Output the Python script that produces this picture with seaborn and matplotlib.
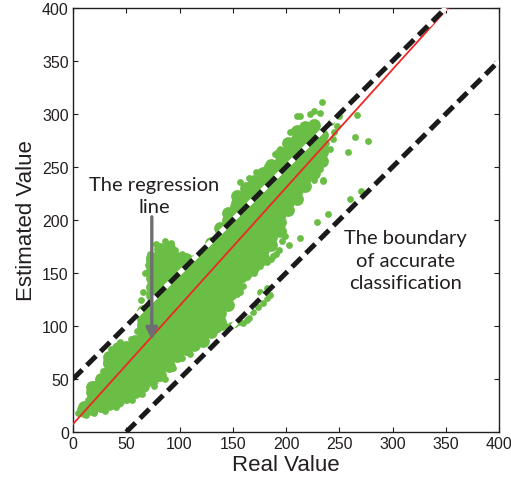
# Scatter of estimated vs real value with regression line and +/-50 boundaries
import numpy as np
import pandas as pd
import matplotlib
matplotlib.use("Agg")
import matplotlib.pyplot as plt
import seaborn as sns

# dense core of the cloud, read column by column (x, then the y values in that column)
core_cols_x = [10, 18, 26, 34, 42, 50, 58, 66, 74, 82, 90, 98, 106, 114, 122, 130,
               138, 146, 154, 162, 170, 178, 186, 194, 202, 210, 218, 226, 234]
core_cols_y = [
    [20, 24],
    [22, 30, 38, 42],
    [25, 33, 41, 50],
    [26, 34, 42, 50, 58, 66, 71],
    [29, 37, 45, 53, 61, 69, 77, 79],
    [33, 41, 49, 57, 65, 73, 80],
    [38, 46, 54, 62, 70, 78, 86],
    [43, 51, 59, 67, 75, 83, 91, 99, 107, 114],
    [49, 57, 65, 73, 81, 89, 97, 105, 113, 121, 129, 137, 145, 153, 161, 164],
    [54, 62, 70, 78, 86, 94, 102, 110, 118, 126, 134, 142, 150, 158, 166, 173],
    [62, 70, 78, 86, 94, 102, 110, 118, 126, 134, 142, 150, 158, 166, 174],
    [72, 80, 88, 96, 104, 112, 120, 128, 136, 144, 152, 160, 164],
    [78, 86, 94, 102, 110, 118, 126, 134, 142, 150, 158, 163],
    [82, 90, 98, 106, 114, 122, 130, 138, 146, 154, 161],
    [86, 94, 102, 110, 118, 126, 134, 142, 150, 158, 166],
    [94, 102, 110, 118, 126, 134, 142, 150, 158, 166, 174, 178],
    [104, 112, 120, 128, 136, 144, 152, 160, 168, 176, 184, 192],
    [120, 128, 136, 144, 152, 160, 168, 176, 184, 192, 200, 207],
    [136, 144, 152, 160, 168, 176, 184, 192, 200, 208, 216, 223],
    [150, 158, 166, 174, 182, 190, 198, 206, 214, 222, 230],
    [157, 165, 173, 181, 189, 197, 205, 213, 221, 229, 237],
    [164, 172, 180, 188, 196, 204, 212, 220, 228, 236, 244],
    [176, 184, 192, 200, 208, 216, 224, 232, 240, 248, 252],
    [190, 198, 206, 214, 222, 230, 238, 246, 254, 262],
    [209, 217, 225, 233, 241, 249, 257, 265, 273],
    [220, 228, 236, 244, 252, 260, 268, 276, 284],
    [232, 240, 248, 256, 264, 272, 280, 288],
    [244, 252, 260, 268, 276, 284, 290],
    [256, 264, 272, 280],
]

# single scattered points along the edges, the lower arms and the outliers
edge_x = [5, 7, 12, 14, 20, 28, 31, 36, 44, 54, 60, 63, 62, 64, 66, 68, 70, 72, 78, 86,
          92, 96, 102, 108, 20, 30, 40, 55, 65, 76, 86, 94, 102, 110,
          100, 106, 113, 120, 128, 136, 144, 152, 160, 165, 169, 174, 178, 182, 185, 176, 182,
          122, 127, 132, 138, 144, 150, 157, 160, 166, 171, 176, 182, 188, 185, 191, 196,
          105, 117, 125, 133, 140, 148, 156, 163, 130, 136, 141, 148, 154, 160, 163, 170,
          178, 186, 193, 199, 195,
          203, 213, 229, 239, 260, 270, 258, 265, 277, 267, 235,
          234, 226, 232, 213, 223, 207, 216, 204, 198, 194, 191, 235, 241, 238, 248, 235, 232,
          226, 244, 250, 245, 242, 228,
          150, 157, 165, 172, 182, 194, 204, 210, 190]
edge_y = [18, 22, 16, 30, 45, 58, 64, 78, 85, 88, 95, 102, 110, 125, 132, 150, 158, 168, 177, 180,
          178, 172, 168, 164, 18, 20, 24, 30, 36, 43, 50, 60, 70, 74,
          75, 78, 84, 88, 94, 97, 100, 102, 103, 108, 113, 118, 122, 126, 129, 132, 136,
          106, 110, 114, 120, 125, 128, 132, 144, 150, 153, 157, 160, 166, 179, 168, 180,
          80, 86, 92, 96, 99, 101, 104, 106, 108, 116, 122, 127, 130, 138, 146, 150,
          160, 163, 172, 185, 190,
          176, 183, 198, 206, 220, 227, 264, 278, 275, 299, 237,
          311, 303, 301, 298, 300, 284, 286, 267, 264, 245, 254, 260, 267, 273, 289, 238, 248,
          238, 276, 298, 283, 292, 290,
          213, 236, 240, 245, 251, 267, 283, 298, 262]

# fitted regression line and the accurate-classification boundaries (y = x +/- 50)
reg_intercept = 7.5
reg_slope = 1.115
bound_offset = 50

ticks = [0, 50, 100, 150, 200, 250, 300, 350, 400]

core = pd.DataFrame({
    "real": np.repeat(core_cols_x, [len(c) for c in core_cols_y]),
    "est": np.concatenate(core_cols_y),
})
edge = pd.DataFrame({"real": edge_x, "est": edge_y})

sns.set_style("ticks")
plt.rcParams["font.family"] = ["Liberation Sans", "DejaVu Sans"]
plt.rcParams["xtick.direction"] = "in"
plt.rcParams["ytick.direction"] = "in"

fig = plt.figure(figsize=(5.11, 4.89), dpi=100)
ax = fig.add_axes([73 / 511, 56 / 489, 426 / 511, 424 / 489])

green = "#6abd45"
sns.scatterplot(data=core, x="real", y="est", ax=ax, color=green, s=85, linewidth=0)
sns.scatterplot(data=edge, x="real", y="est", ax=ax, color=green, s=24, linewidth=0)

ax.axline((0, reg_intercept), slope=reg_slope, color="#ee2724", lw=1.3, zorder=3)
for off in (bound_offset, -bound_offset):
    ax.axline((0, off), slope=1, color="#1a1a1a", lw=3.6, dashes=(2.6, 1.3),
              gapcolor="white", zorder=4)

ax.annotate("", xy=(74, 87), xytext=(74, 203),
            arrowprops=dict(arrowstyle="-|>,head_length=0.7,head_width=0.35",
                            color="#6d6e71", lw=2.4, shrinkA=0, shrinkB=0), zorder=5)
ax.text(76, 223, "The regression\nline", ha="center", va="center", fontsize=14.5,
        family=["Lato", "DejaVu Sans"], color="#231f20", linespacing=1.35)
ax.text(312, 162, "The boundary\nof accurate\nclassification", ha="center", va="center",
        fontsize=14.5, family=["Lato", "DejaVu Sans"], color="#231f20", linespacing=1.4)

ax.set_xlim(0, 400)
ax.set_ylim(0, 400)
ax.set_xticks(ticks)
ax.set_yticks(ticks)
ax.tick_params(which="both", top=True, right=True, length=3.5, width=0.8,
               labelsize=11.5, colors="#231f20", pad=3)
for sp in ax.spines.values():
    sp.set_color("#231f20")
    sp.set_linewidth(1.0)
ax.set_xlabel("Real Value", fontsize=16, color="#231f20", labelpad=2)
ax.set_ylabel("Estimated Value", fontsize=16, color="#231f20", labelpad=4)

fig.savefig("out.png", dpi=100)
